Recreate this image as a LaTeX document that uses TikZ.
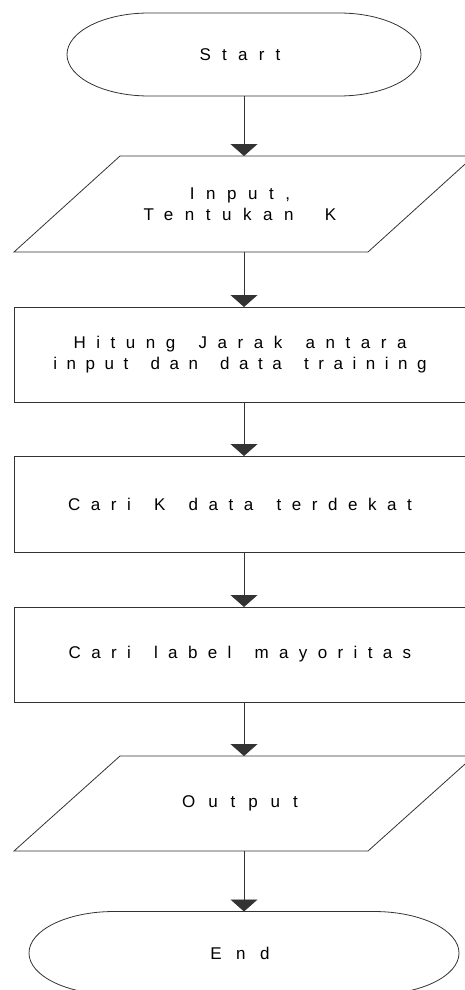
\documentclass[tikz,border=0pt]{standalone}
\usepackage{fontspec}
\setmainfont{Liberation Sans}
\usetikzlibrary{arrows.meta}
\newcommand\lsp[2]{{\addfontfeature{LetterSpace=#1}#2}\kern8pt}
\newcommand\ws[1][8pt]{\ \hspace{#1}}
\begin{document}
\begin{tikzpicture}[x=1pt,y=1pt,
  outline/.style={draw=black!80,line width=0.8pt},
  holder/.style={inner sep=0pt,outer sep=0pt,align=center,font=\fontsize{17}{21}\selectfont},
  flow/.style={draw=black!80,line width=0.9pt,-{Triangle[width=27pt,length=12pt]}}]
\useasboundingbox (0,0) rectangle (465,-990);
% nodes (bounding boxes of the shapes)
\node[holder,minimum width=354pt,minimum height=83pt] (start) at (244,-54.5) {\lsp{66}{Start}};
\node[holder,minimum width=460pt,minimum height=96pt] (input) at (244,-204) {\lsp{68}{Input,}\\\lsp{68}{Tentukan\ws[15pt]K}};
\node[holder,minimum width=460pt,minimum height=95pt] (hitung) at (244,-354.5) {\lsp{62}{Hitung\ws Jarak\ws antara}\\\lsp{56}{input\ws dan\ws data\ws training}};
\node[holder,minimum width=460pt,minimum height=96pt] (carik) at (244,-504) {\lsp{62}{Cari\ws K\ws data\ws terdekat}};
\node[holder,minimum width=460pt,minimum height=95pt] (label) at (244,-654.5) {\lsp{61}{Cari\ws label\ws mayoritas}};
\node[holder,minimum width=460pt,minimum height=95pt] (output) at (244,-803.5) {\lsp{76}{Output}};
\node[holder,minimum width=430pt,minimum height=83pt] (end) at (244,-953) {\lsp{85}{End}};
% shapes
\draw[outline] ([xshift=82pt]start.north west) -- ([xshift=-82pt]start.north east)
  arc[start angle=90,end angle=-90,x radius=82,y radius=41.5]
  -- ([xshift=82pt]start.south west)
  arc[start angle=270,end angle=90,x radius=82,y radius=41.5] -- cycle;
\draw[outline] ([xshift=106pt]input.north west) -- (input.north east)
  -- ([xshift=-106pt]input.south east) -- (input.south west) -- cycle;
\draw[outline] (hitung.north west) rectangle (hitung.south east);
\draw[outline] (carik.north west) rectangle (carik.south east);
\draw[outline] (label.north west) rectangle (label.south east);
\draw[outline] ([xshift=106pt]output.north west) -- (output.north east)
  -- ([xshift=-106pt]output.south east) -- (output.south west) -- cycle;
\draw[outline] ([xshift=85pt]end.north west) -- ([xshift=-85pt]end.north east)
  arc[start angle=90,end angle=-90,x radius=85,y radius=41.5]
  -- ([xshift=85pt]end.south west)
  arc[start angle=270,end angle=90,x radius=85,y radius=41.5] -- cycle;
% connectors
\draw[flow] (start.south) -- (input.north);
\draw[flow] (input.south) -- (hitung.north);
\draw[flow] (hitung.south) -- (carik.north);
\draw[flow] (carik.south) -- (label.north);
\draw[flow] (label.south) -- (output.north);
\draw[flow] (output.south) -- (end.north);
\end{tikzpicture}
\end{document}
